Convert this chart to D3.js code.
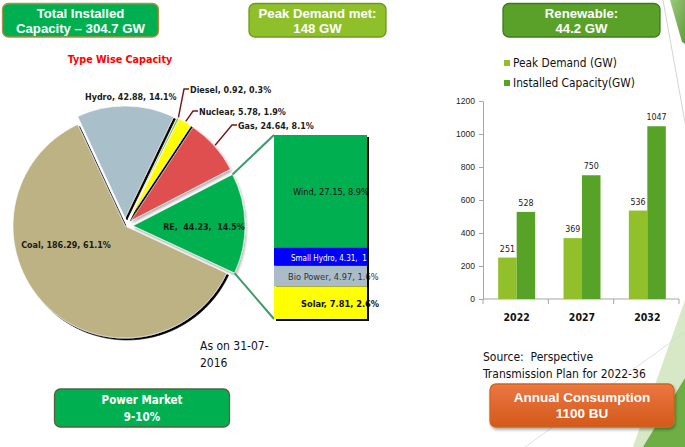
<!DOCTYPE html>
<html><head><meta charset="utf-8">
<script src="https://cdn.jsdelivr.net/npm/d3@7"></script>
<style>html,body{margin:0;padding:0;background:#fff;} svg{display:block}</style>
</head><body><svg id="c" width="685" height="447"></svg>
<script>
// ---------- data ----------
const pieCategories = ["Hydro", "Diesel", "Nuclear", "Gas", "RE", "Coal"];
const pieValues = [42.88, 0.92, 5.78, 24.64, 44.23, 186.29];
const piePercents = ["14.1%", "0.3%", "1.9%", "8.1%", "14.5%", "61.1%"];
const reCategories = ["Wind", "Small Hydro", "Bio Power", "Solar"];
const reValues = [27.15, 4.31, 4.97, 7.81];
const rePercents = ["8.9%", "1.4%", "1.6%", "2.6%"];
const years = ["2022", "2027", "2032"];
const peakDemand = [251, 369, 536];
const installedCapacity = [528, 750, 1047];
const yTicks = [0, 200, 400, 600, 800, 1000, 1200];
const seriesNames = ["Peak Demand (GW)", "Installed Capacity(GW)"];

// ---------- style / layout ----------
const FT = "'DejaVu Sans Condensed','DejaVu Sans',sans-serif";
const FA = "'Liberation Sans',Arial,sans-serif";
const pieColors = {Hydro:"#a9bfca", Diesel:"#8cc04a", Nuclear:"#ffff00", Gas:"#e0504f", RE:"#00b050", Coal:"#bdb283"};
const reColors = {"Wind":"#00b050", "Small Hydro":"#0000ff", "Bio Power":"#a9bcc8", "Solar":"#ffff00"};
const seriesColors = ["#92c02b", "#57a327"];

const svg = d3.select("#c");
const defs = svg.append("defs");
const fsh = defs.append("filter").attr("id","sh").attr("x","-20%").attr("y","-20%").attr("width","140%").attr("height","140%");
fsh.append("feDropShadow").attr("dx",2).attr("dy",2).attr("stdDeviation",0.4).attr("flood-color","#000").attr("flood-opacity",1);
const fsoft = defs.append("filter").attr("id","soft").attr("x","-20%").attr("y","-20%").attr("width","140%").attr("height","160%");
fsoft.append("feDropShadow").attr("dx",1).attr("dy",2).attr("stdDeviation",1.5).attr("flood-color","#000").attr("flood-opacity",0.35);
const gOr = defs.append("linearGradient").attr("id","gor").attr("x1",0).attr("y1",0).attr("x2",0).attr("y2",1);
gOr.append("stop").attr("offset","0%").attr("stop-color","#eb7742");
gOr.append("stop").attr("offset","100%").attr("stop-color","#d3591a");
const gTop = defs.append("linearGradient").attr("id","gtop").attr("x1",0).attr("y1",0).attr("x2",1).attr("y2",1);
gTop.append("stop").attr("offset","0%").attr("stop-color","#9cc97a");
gTop.append("stop").attr("offset","100%").attr("stop-color","#5f9e3a");

// ---------- background decoration ----------
svg.append("polygon").attr("points","633,447 685,447 685,300").attr("fill","#d6e8c6");
svg.append("polygon").attr("points","643,447 685,447 685,378").attr("fill","#6fae45");
svg.append("polygon").attr("points","670,0 685,0 685,44 682,42").attr("fill","url(#gtop)");
svg.append("line").attr("x1",663).attr("y1",0).attr("x2",686).attr("y2",128).attr("stroke","#c8c8c8").attr("stroke-width",0.8);
svg.append("line").attr("x1",525).attr("y1",447).attr("x2",685).attr("y2",332).attr("stroke","#d8d8d8").attr("stroke-width",0.8);

// ---------- boxes ----------
function box(x, y, w, h, fill, stroke, lines, baselines, font, size, weight, shadow) {
  const g = svg.append("g");
  g.append("rect").attr("x",x).attr("y",y).attr("width",w).attr("height",h).attr("rx",6)
    .attr("fill",fill).attr("stroke",stroke).attr("stroke-width",1.3)
    .attr("filter", shadow ? "url(#soft)" : null);
  lines.forEach((t,i) => g.append("text").attr("x",x+w/2).attr("y",baselines[i]).attr("text-anchor","middle")
    .attr("font-family",font).attr("font-size",size).attr("font-weight",weight).attr("fill","#fff").text(t));
}
box(2.5, 3.5, 156, 33.5, "#00b050", "#b38f3f", ["Total Installed", "Capacity \u2013 304.7 GW"], [18, 33], FA, 13.2, "bold");
box(249, 3.5, 137, 33.5, "#8fbf2a", "#6d9a1e", ["Peak Demand met:", "148 GW"], [18, 33], FA, 13.2, "bold");
box(503, 3.5, 157, 33.5, "#5aa12a", "#3e7c1b", ["Renewable:", "44.2 GW"], [18, 33], FA, 13.2, "bold");
box(54.5, 389, 175, 38, "#00b050", "#55603f", ["Power Market", "9-10%"], [404, 421], FT, 11.5, "bold");
box(490, 384, 184, 43, "url(#gor)", "#d0651f", ["Annual Consumption", "1100 BU"], [402, 418], FA, 13.5, "bold", true);

// ---------- pie ----------
svg.append("text").attr("x",120).attr("y",63).attr("text-anchor","middle").attr("font-family",FT)
  .attr("font-size",10.7).attr("font-weight","bold").attr("fill","#ff0000").text("Type Wise Capacity");

const cx = 125, cy = 226, R = 112, explode = 8, deg = Math.PI / 180;
const pie = d3.pie().sort(null).startAngle(-25 * deg).endAngle(335 * deg);
const arcs = pie(pieValues);
const arcGen = d3.arc().innerRadius(0).outerRadius(R);
arcs.forEach((a, i) => {
  a.cat = pieCategories[i];
  a.mid = (a.startAngle + a.endAngle) / 2;
  const off = a.cat === "Coal" ? 0 : explode;
  a.ox = cx + off * Math.sin(a.mid);
  a.oy = cy - off * Math.cos(a.mid);
});
const shadowed = {Hydro:true, Diesel:true, Nuclear:true, Coal:true, Gas:false, RE:false};
const pg = svg.append("g");
[5,0,1,2,3,4].forEach(i => {
  const a = arcs[i];
  pg.append("path").attr("d", arcGen(a)).attr("transform", `translate(${a.ox},${a.oy})`)
    .attr("fill", pieColors[a.cat]).attr("stroke", "#fff").attr("stroke-width", 0.6)
    .attr("filter", shadowed[a.cat] ? "url(#sh)" : "url(#soft)");
});

const pieLabelLayout = {
  Hydro:  {x: 85,  y: 100, anchor: "start"},
  Diesel: {x: 190, y: 93,  anchor: "start", leader: true},
  Nuclear:{x: 199, y: 115, anchor: "start", leader: true},
  Gas:    {x: 238, y: 129, anchor: "start", leader: true},
  RE:     {x: 204, y: 230, anchor: "middle", sep: ",  "},
  Coal:   {x: 66,  y: 248, anchor: "middle"}
};
arcs.forEach((a, i) => {
  const L = pieLabelLayout[a.cat];
  if (L.leader) {
    const p0 = [a.ox + (R + 1) * Math.sin(a.mid), a.oy - (R + 1) * Math.cos(a.mid)];
    pg.append("polyline").attr("points", `${p0[0]},${p0[1]} ${L.x - 6},${L.y - 4} ${L.x - 1},${L.y - 4}`)
      .attr("fill","none").attr("stroke","#7a1414").attr("stroke-width",1.4);
  }
  const sep = L.sep || ", ";
  pg.append("text").attr("x", L.x).attr("y", L.y).attr("text-anchor", L.anchor).attr("xml:space","preserve")
    .attr("font-family", FT).attr("font-size", 8.9).attr("font-weight", "bold").attr("fill", "#1a1a1a")
    .text(`${a.cat}${sep}${pieValues[i]}${sep}${piePercents[i]}`);
});

// ---------- bar of pie ----------
const bx = 274, bw = 93, bTop = 135, bBot = 319;
const reTotal = d3.sum(reValues);
const sy = d3.scaleLinear().domain([0, reTotal]).range([bTop, bBot]);
const reArc = arcs[pieCategories.indexOf("RE")];
const c1 = [reArc.ox + R * Math.sin(reArc.startAngle), reArc.oy - R * Math.cos(reArc.startAngle)];
const c2 = [reArc.ox + R * Math.sin(reArc.endAngle), reArc.oy - R * Math.cos(reArc.endAngle)];
svg.append("line").attr("x1",c1[0]).attr("y1",c1[1]).attr("x2",bx).attr("y2",bTop).attr("stroke","#3f9a6a").attr("stroke-width",2);
svg.append("line").attr("x1",c2[0]).attr("y1",c2[1]).attr("x2",bx).attr("y2",bBot).attr("stroke","#3f9a6a").attr("stroke-width",2);

svg.append("rect").attr("x",bx+2).attr("y",bTop+2).attr("width",bw).attr("height",bBot-bTop).attr("fill","#000");
const stack = [];
let acc = 0;
reValues.forEach((v, i) => { stack.push({cat: reCategories[i], v, p: rePercents[i], y0: acc, y1: acc + v}); acc += v; });
const sg = svg.append("g");
sg.selectAll("rect.seg").data(stack).join("rect").attr("class","seg")
  .attr("x", bx).attr("width", bw).attr("y", d => sy(d.y0)).attr("height", d => sy(d.y1) - sy(d.y0))
  .attr("fill", d => reColors[d.cat]);
defs.append("clipPath").attr("id","barclip").append("rect").attr("x",bx).attr("y",bTop).attr("width",bw).attr("height",bBot-bTop);
const reLabelLayout = {
  "Wind":        {dx: 19, size: 9.2, color: "#111", weight: "normal", clip: false, sep: ", "},
  "Small Hydro": {dx: 17, size: 8.0, color: "#fff", weight: "normal", clip: true,  sep: ",  "},
  "Bio Power":   {dx: 14, size: 9.2, color: "#333", weight: "normal", clip: false, sep: ", "},
  "Solar":       {dx: 27, size: 9.2, color: "#111", weight: "bold",   clip: false, sep: ", "}
};
stack.forEach(d => {
  const L = reLabelLayout[d.cat];
  sg.append("text").attr("x", bx + L.dx).attr("y", (sy(d.y0) + sy(d.y1)) / 2 + 4).attr("xml:space","preserve")
    .attr("font-family", FT).attr("font-size", L.size).attr("font-weight", L.weight).attr("fill", L.color)
    .attr("clip-path", L.clip ? "url(#barclip)" : null).text(`${d.cat}, ${d.v}${L.sep}${d.p}`);
});
svg.append("rect").attr("x",bx+bw).attr("y",bTop+2).attr("width",2).attr("height",bBot-bTop).attr("fill","#000");

svg.append("text").attr("font-family",FT).attr("font-size",12).attr("fill","#111")
  .selectAll("tspan").data(["As on 31-07-", "2016"]).join("tspan")
  .attr("x",200).attr("y",(d,i)=>350+i*17).text(d=>d);

// ---------- grouped bar chart ----------
const x0 = d3.scaleBand().domain(years).range([483, 679]).padding(0);
const gw = 37;
const x1 = d3.scaleBand().domain([0, 1]).range([0, gw]);
const y = d3.scaleLinear().domain([0, 1200]).range([299, 101]);
const cg = svg.append("g");
const yAxis = cg.append("g").attr("transform","translate(483,0)")
  .call(d3.axisLeft(y).tickValues(yTicks).tickSize(4).tickSizeOuter(0).tickPadding(4).tickFormat(d3.format("d")));
yAxis.select(".domain").attr("stroke","#a6a6a6");
yAxis.selectAll(".tick line").attr("stroke","#a6a6a6");
yAxis.selectAll(".tick text").attr("font-family",FA).attr("font-size",8.5).attr("fill","#222");
cg.append("line").attr("x1",483).attr("x2",679).attr("y1",299).attr("y2",299).attr("stroke","#a6a6a6");
const bounds = years.map(yr => x0(yr)).concat([x0(years[years.length-1]) + x0.bandwidth()]);
cg.selectAll("line.xt").data(bounds).join("line").attr("class","xt")
  .attr("x1",d=>d).attr("x2",d=>d).attr("y1",299).attr("y2",304).attr("stroke","#a6a6a6");

const series = [peakDemand, installedCapacity];
series.forEach((vals, s) => {
  years.forEach((yr, i) => {
    const xl = x0(yr) + (x0.bandwidth() - gw) / 2 + 1 + x1(s);
    cg.append("rect").attr("x", xl).attr("width", x1.bandwidth()).attr("y", y(vals[i]))
      .attr("height", y(0) - y(vals[i])).attr("fill", seriesColors[s]);
    cg.append("text").attr("x", xl + x1.bandwidth() / 2).attr("y", y(vals[i]) - 6).attr("text-anchor","middle")
      .attr("font-family", FT).attr("font-size", 8.8).attr("fill","#222").text(vals[i]);
  });
});
cg.selectAll("text.yr").data(years).join("text").attr("class","yr")
  .attr("x", d => x0(d) + x0.bandwidth() / 2 + 1).attr("y", 321).attr("text-anchor","middle")
  .attr("font-family", FT).attr("font-size", 10.5).attr("font-weight","bold").attr("fill","#111").text(d => d);

// legend
seriesNames.forEach((n, i) => {
  cg.append("rect").attr("x",504).attr("y",60 + i*20).attr("width",6).attr("height",6).attr("fill",seriesColors[i]);
  cg.append("text").attr("x",513).attr("y",67 + i*20).attr("font-family",FT).attr("font-size",11.8).attr("fill","#111").text(n);
});

svg.append("text").attr("font-family",FT).attr("font-size",12).attr("fill","#111").attr("xml:space","preserve")
  .selectAll("tspan").data(["Source:  Perspective", "Transmission Plan for 2022-36"]).join("tspan")
  .attr("x",483).attr("y",(d,i)=>361+i*16.5).text(d=>d);
</script></body></html>
